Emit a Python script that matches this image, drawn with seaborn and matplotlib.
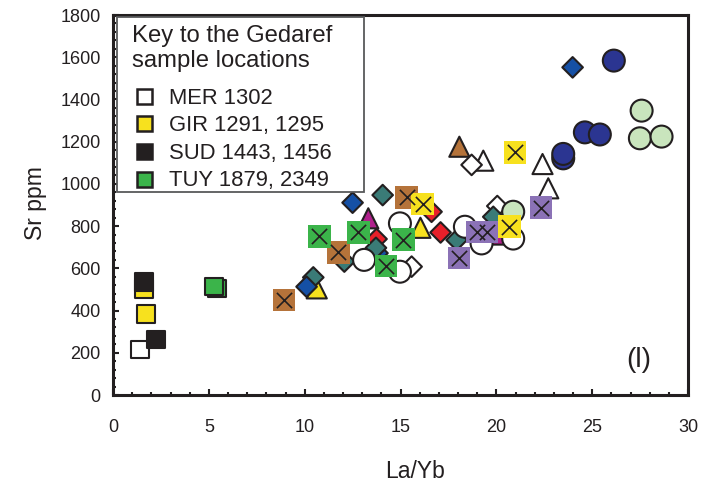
import matplotlib
matplotlib.use("Agg")
import matplotlib.pyplot as plt
import seaborn as sns
import pandas as pd
from matplotlib.lines import Line2D
from matplotlib.patches import Rectangle
from matplotlib.ticker import MultipleLocator

INK = "#231f20"

# ---- fill colours -------------------------------------------------------
palette = {
    "white": "#ffffff",
    "yellow": "#f7e11e",
    "black": "#231f20",
    "green": "#3bb44a",
    "brown": "#b5733a",
    "purple": "#8b72b6",
    "blue": "#1550a5",
    "teal": "#3a7b77",
    "red": "#e8202a",
    "magenta": "#b0208c",
    "navy": "#2b3591",
    "pale": "#c9e5bd",
}

# ---- Gedaref sample locations (open / filled squares) -------------------
key_title = "Key to the Gedaref\nsample locations"
location_names = ["MER 1302", "GIR 1291, 1295", "SUD 1443, 1456", "TUY 1879, 2349"]
location_fill = ["white", "yellow", "black", "green"]
mer_la_yb = [1.4]
mer_sr = [215]
gir_la_yb = [1.63, 1.72]
gir_sr = [502, 384]
sud_la_yb = [1.63, 2.24]
sud_sr = [535, 262]
tuy_la_yb = [5.44, 5.27]
tuy_sr = [505, 513]

# ---- squares with a cross ------------------------------------------------
xsq_la_yb = [8.92, 11.75, 15.32, 10.76, 12.8, 14.24, 15.14,
             16.15, 20.67, 20.97, 18.05, 19.0, 19.5, 22.33]
xsq_sr = [450, 676, 937, 752, 771, 611, 735,
          905, 797, 1150, 649, 772, 772, 887]
xsq_fill = ["brown", "brown", "brown", "green", "green", "green", "green",
            "yellow", "yellow", "yellow", "purple", "purple", "purple", "purple"]

# ---- diamonds ------------------------------------------------------------
dia_la_yb = [10.45, 10.1, 12.5, 14.07, 12.07, 13.75, 13.8, 13.72,
             16.62, 17.09, 17.93, 15.58, 18.71, 20.05, 19.84, 23.98]
dia_sr = [557, 513, 911, 947, 632, 739, 672, 697,
          868, 770, 734, 608, 1090, 895, 844, 1552]
dia_fill = ["teal", "blue", "blue", "teal", "teal", "red", "blue", "teal",
            "red", "red", "teal", "white", "white", "white", "teal", "blue"]

# ---- triangles -----------------------------------------------------------
tri_la_yb = [10.63, 13.32, 16.04, 18.07, 19.32, 22.41, 22.71, 20.1]
tri_sr = [505, 837, 792, 1176, 1110, 1094, 979, 760]
tri_fill = ["yellow", "magenta", "yellow", "brown", "white", "white", "white", "magenta"]

# ---- circles -------------------------------------------------------------
circ_la_yb = [13.1, 14.97, 14.97, 18.36, 19.23, 20.88,
              20.88, 27.58, 27.49, 28.62,
              23.49, 23.49, 24.62, 25.4, 26.13]
circ_sr = [640, 813, 584, 797, 718, 741,
           868, 1347, 1216, 1224,
           1121, 1142, 1244, 1234, 1584]
circ_fill = ["white", "white", "white", "white", "white", "white",
             "pale", "pale", "pale", "pale",
             "navy", "navy", "navy", "navy", "navy"]


def frame(xs, ys, fills):
    return pd.DataFrame({"la_yb": xs, "sr": ys, "fill": fills})


sns.set_style("white")
plt.rcParams["font.family"] = ["Liberation Sans", "DejaVu Sans"]

fig = plt.figure(figsize=(7.04, 4.88), dpi=100)
ax = fig.add_axes([113 / 704, 93 / 488, 575 / 704, 380 / 488])

common = dict(x="la_yb", y="sr", hue="fill", palette=palette, legend=False, ax=ax)

sns.scatterplot(data=frame(tri_la_yb, tri_sr, tri_fill), marker="^", s=210,
                edgecolor=INK, linewidth=1.5, zorder=2, **common)
sns.scatterplot(data=frame(dia_la_yb, dia_sr, dia_fill), marker="D", s=110,
                edgecolor=INK, linewidth=1.5, zorder=3, **common)
sns.scatterplot(data=frame(circ_la_yb, circ_sr, circ_fill), marker="o", s=250,
                edgecolor=INK, linewidth=1.5, zorder=4, **common)

loc_df = pd.concat([
    frame(mer_la_yb, mer_sr, ["white"] * len(mer_sr)),
    frame(gir_la_yb, gir_sr, ["yellow"] * len(gir_sr)),
    frame(sud_la_yb, sud_sr, ["black"] * len(sud_sr)),
    frame(tuy_la_yb, tuy_sr, ["green"] * len(tuy_sr)),
], ignore_index=True)
sns.scatterplot(data=loc_df, marker="s", s=160, edgecolor=INK, linewidth=1.5,
                zorder=5, **common)

xsq_df = frame(xsq_la_yb, xsq_sr, xsq_fill)
sns.scatterplot(data=xsq_df, marker="s", s=268, linewidth=0, zorder=6, **common)
sns.scatterplot(data=xsq_df, x="la_yb", y="sr", marker="x", s=120, color=INK,
                linewidth=1.2, zorder=7, legend=False, ax=ax)

# ---- axes ----------------------------------------------------------------
ax.set_xlim(0, 30)
ax.set_ylim(0, 1800)
ax.xaxis.set_major_locator(MultipleLocator(5))
ax.xaxis.set_minor_locator(MultipleLocator(1))
ax.yaxis.set_major_locator(MultipleLocator(200))
ax.yaxis.set_minor_locator(MultipleLocator(40))
ax.tick_params(which="both", direction="in", top=False, right=False,
               bottom=True, left=True, color=INK, width=1.5)
ax.tick_params(which="major", length=4.5, labelsize=13, labelcolor=INK)
ax.tick_params(which="minor", length=2.5)
ax.tick_params(axis="x", which="major", pad=17)
ax.tick_params(axis="y", which="major", pad=9)
for sp in ax.spines.values():
    sp.set_linewidth(2.2)
    sp.set_color(INK)

ax.set_xlabel("La/Yb", fontsize=16.5, color=INK)
ax.set_ylabel("Sr ppm", fontsize=16.5, color=INK)
ax.xaxis.set_label_coords(0.525, -0.171)
ax.yaxis.set_label_coords(-0.115, 0.505)

ax.text(27.45, 165, "(l)", fontsize=20, color=INK, ha="center", va="center")

# ---- key box: frame, heading and location entries ------------------------
ax.add_patch(Rectangle((0.007, 0.534), 0.4295, 0.461, transform=ax.transAxes,
                       facecolor="white", edgecolor="#58595b", linewidth=1.3,
                       zorder=9, clip_on=False))
ax.text(0.0335, 0.9735, key_title, transform=ax.transAxes, ha="left", va="top",
        fontsize=17.2, color=INK, linespacing=1.2, zorder=10)

handles = [Line2D([], [], ls="", marker="s", ms=10.8, mfc=palette[c],
                  mec=INK, mew=1.8) for c in location_fill]
leg = ax.legend(handles, location_names, loc="upper left",
                bbox_to_anchor=(0.0357, 0.809), fontsize=15.8, frameon=False,
                borderpad=0, borderaxespad=0, handlelength=1.0,
                handletextpad=0.62, labelspacing=0.3)
for t in leg.get_texts():
    t.set_color(INK)
leg.set_zorder(11)

fig.savefig("out.png", dpi=100)
